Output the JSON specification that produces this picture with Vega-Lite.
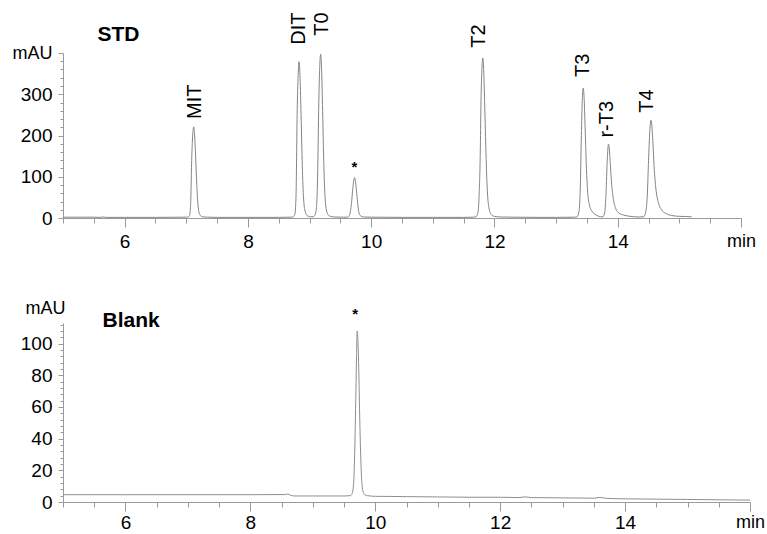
{
  "$schema": "https://vega.github.io/schema/vega-lite/v6.json",
  "background": "white",
  "padding": {"left": 12, "top": 12, "right": 5, "bottom": 0},
  "spacing": 105,
  "bounds": "flush",
  "config": {
    "view": {"stroke": null},
    "font": "Liberation Sans",
    "axis": {"labelFont": "Liberation Sans", "titleFont": "Liberation Sans", "domainColor": "#9a9a9a", "tickColor": "#9a9a9a", "labelColor": "#000000", "grid": false, "labelOverlap": false, "labelFlush": false, "tickCount": 100}
  },
  "datasets": {
    "std": [
      {"t": 5.0, "v": 2}, {"t": 5.5, "v": 2}, {"t": 5.6, "v": 1.5}, {"t": 5.65, "v": 2.5}, {"t": 5.7, "v": 1.5}, {"t": 6.0, "v": 1.5}, {"t": 6.5, "v": 1.5}, {"t": 7.0, "v": 2},
      {"t": 7.02, "v": 2}, {"t": 7.05, "v": 5}, {"t": 7.07, "v": 31}, {"t": 7.09, "v": 152}, {"t": 7.105, "v": 201}, {"t": 7.12, "v": 221}, {"t": 7.135, "v": 201}, {"t": 7.15, "v": 155}, {"t": 7.17, "v": 82}, {"t": 7.19, "v": 32}, {"t": 7.22, "v": 8}, {"t": 7.26, "v": 3}, {"t": 7.35, "v": 2},
      {"t": 7.5, "v": 1.5}, {"t": 8.0, "v": 1.5}, {"t": 8.5, "v": 1.5}, {"t": 8.7, "v": 2},
      {"t": 8.72, "v": 2}, {"t": 8.76, "v": 8}, {"t": 8.78, "v": 50}, {"t": 8.8, "v": 262}, {"t": 8.815, "v": 345}, {"t": 8.83, "v": 379}, {"t": 8.845, "v": 345}, {"t": 8.86, "v": 265}, {"t": 8.88, "v": 140}, {"t": 8.9, "v": 55}, {"t": 8.93, "v": 15}, {"t": 8.97, "v": 5}, {"t": 9.02, "v": 3}, {"t": 9.06, "v": 3},
      {"t": 9.08, "v": 5}, {"t": 9.11, "v": 22}, {"t": 9.13, "v": 95}, {"t": 9.15, "v": 280}, {"t": 9.165, "v": 365}, {"t": 9.18, "v": 397}, {"t": 9.195, "v": 362}, {"t": 9.21, "v": 275}, {"t": 9.23, "v": 140}, {"t": 9.25, "v": 55}, {"t": 9.28, "v": 15}, {"t": 9.32, "v": 5}, {"t": 9.4, "v": 2.5}, {"t": 9.55, "v": 2},
      {"t": 9.62, "v": 2}, {"t": 9.65, "v": 8}, {"t": 9.68, "v": 35}, {"t": 9.7, "v": 68}, {"t": 9.715, "v": 89}, {"t": 9.73, "v": 98}, {"t": 9.745, "v": 89}, {"t": 9.76, "v": 68}, {"t": 9.78, "v": 37}, {"t": 9.8, "v": 14}, {"t": 9.83, "v": 5}, {"t": 9.88, "v": 2.5}, {"t": 10.0, "v": 2},
      {"t": 10.5, "v": 1.5}, {"t": 11.0, "v": 1.5}, {"t": 11.5, "v": 1.5}, {"t": 11.65, "v": 2},
      {"t": 11.7, "v": 3}, {"t": 11.73, "v": 12}, {"t": 11.75, "v": 50}, {"t": 11.77, "v": 160}, {"t": 11.78, "v": 268}, {"t": 11.795, "v": 355}, {"t": 11.81, "v": 388}, {"t": 11.825, "v": 360}, {"t": 11.84, "v": 285}, {"t": 11.86, "v": 170}, {"t": 11.88, "v": 80}, {"t": 11.91, "v": 25}, {"t": 11.95, "v": 8}, {"t": 12.0, "v": 4}, {"t": 12.1, "v": 2.5}, {"t": 12.3, "v": 2},
      {"t": 12.7, "v": 1.5}, {"t": 13.0, "v": 1.5}, {"t": 13.3, "v": 2},
      {"t": 13.34, "v": 3}, {"t": 13.37, "v": 15}, {"t": 13.39, "v": 60}, {"t": 13.41, "v": 200}, {"t": 13.425, "v": 285}, {"t": 13.44, "v": 315}, {"t": 13.455, "v": 290}, {"t": 13.47, "v": 225}, {"t": 13.49, "v": 130}, {"t": 13.51, "v": 68}, {"t": 13.54, "v": 32}, {"t": 13.58, "v": 17}, {"t": 13.63, "v": 9}, {"t": 13.68, "v": 5}, {"t": 13.72, "v": 3},
      {"t": 13.76, "v": 3}, {"t": 13.79, "v": 15}, {"t": 13.81, "v": 60}, {"t": 13.83, "v": 140}, {"t": 13.85, "v": 179}, {"t": 13.865, "v": 165}, {"t": 13.88, "v": 130}, {"t": 13.9, "v": 85}, {"t": 13.93, "v": 45}, {"t": 13.97, "v": 22}, {"t": 14.02, "v": 12}, {"t": 14.1, "v": 7}, {"t": 14.2, "v": 4}, {"t": 14.35, "v": 2.5},
      {"t": 14.42, "v": 3}, {"t": 14.45, "v": 12}, {"t": 14.48, "v": 55}, {"t": 14.5, "v": 140}, {"t": 14.52, "v": 210}, {"t": 14.54, "v": 237}, {"t": 14.555, "v": 222}, {"t": 14.57, "v": 185}, {"t": 14.59, "v": 125}, {"t": 14.62, "v": 70}, {"t": 14.66, "v": 37}, {"t": 14.71, "v": 20}, {"t": 14.78, "v": 11}, {"t": 14.88, "v": 6}, {"t": 15.0, "v": 4}, {"t": 15.1, "v": 3.5}, {"t": 15.2, "v": 3}
    ],
    "stdPeaks": [
      {"t": 7.14, "v": 240, "label": "MIT"},
      {"t": 8.83, "v": 420, "label": "DIT"},
      {"t": 9.21, "v": 442, "label": "T0"},
      {"t": 11.75, "v": 413, "label": "T2"},
      {"t": 13.44, "v": 342, "label": "T3"},
      {"t": 13.82, "v": 195, "label": "r-T3"},
      {"t": 14.47, "v": 255, "label": "T4"}
    ],
    "stdStar": [{"t": 9.73, "v": 124, "label": "*"}],
    "stdTitle": [{"t": 5.9, "v": 444, "label": "STD"}],
    "blank": [
      {"t": 5.0, "v": 4.6}, {"t": 6.0, "v": 4.6}, {"t": 7.0, "v": 4.6}, {"t": 8.0, "v": 4.6}, {"t": 8.55, "v": 4.7}, {"t": 8.6, "v": 5.0}, {"t": 8.65, "v": 4.2}, {"t": 8.7, "v": 3.8}, {"t": 9.0, "v": 3.8}, {"t": 9.5, "v": 3.8}, {"t": 9.6, "v": 4},
      {"t": 9.62, "v": 4.5}, {"t": 9.65, "v": 10}, {"t": 9.67, "v": 30}, {"t": 9.69, "v": 70}, {"t": 9.7, "v": 92}, {"t": 9.71, "v": 108}, {"t": 9.72, "v": 104}, {"t": 9.735, "v": 85}, {"t": 9.75, "v": 55}, {"t": 9.77, "v": 25}, {"t": 9.79, "v": 10}, {"t": 9.82, "v": 5}, {"t": 9.87, "v": 4}, {"t": 10.0, "v": 3.6},
      {"t": 10.5, "v": 3.4}, {"t": 11.0, "v": 3.2}, {"t": 11.5, "v": 3.0}, {"t": 12.0, "v": 3.0}, {"t": 12.3, "v": 2.8}, {"t": 12.4, "v": 3.2}, {"t": 12.5, "v": 2.8}, {"t": 13.0, "v": 2.6}, {"t": 13.5, "v": 2.4}, {"t": 13.6, "v": 2.9}, {"t": 13.7, "v": 2.3}, {"t": 14.0, "v": 2.0}, {"t": 14.5, "v": 1.8}, {"t": 15.0, "v": 1.6}, {"t": 15.5, "v": 1.4}, {"t": 16.0, "v": 1.2}
    ],
    "blankStar": [{"t": 9.68, "v": 118.5, "label": "*"}],
    "blankTitle": [{"t": 6.09, "v": 114.5, "label": "Blank"}]
  },
  "vconcat": [
    {
      "width": 678,
      "height": 165,
      "layer": [
        {
          "data": {"name": "std"},
          "mark": {"type": "line", "color": "#858585", "strokeWidth": 1, "interpolate": "monotone"},
          "encoding": {
            "x": {"field": "t", "type": "quantitative", "scale": {"domain": [5, 16], "nice": false, "zero": false},
              "axis": {"title": null, "tickCount": 100, "values": [5,5.5,6,6.5,7,7.5,8,8.5,9,9.5,10,10.5,11,11.5,12,12.5,13,13.5,14,14.5,15,15.5,16],
                "labelExpr": "datum.value === 16 ? 'min' : (datum.value % 2 === 0 ? format(datum.value, 'd') : '')",
                "tickSize": {"condition": {"test": "datum.value % 2 === 0", "value": 9}, "value": 5},
                "labelFontSize": {"condition": {"test": "datum.value === 16", "value": 18}, "value": 19},
                "labelPadding": 5}},
            "y": {"field": "v", "type": "quantitative", "scale": {"domain": [0, 400], "nice": false},
              "axis": {"title": null, "tickCount": 100, "values": [0,20,40,60,80,100,120,140,160,180,200,220,240,260,280,300,320,340,360,380,400],
                "labelExpr": "datum.value === 400 ? 'mAU' : (datum.value % 100 === 0 ? format(datum.value, 'd') : '')",
                "tickSize": {"condition": {"test": "datum.value % 100 === 0", "value": 5}, "value": 3},
                "labelFontSize": {"condition": {"test": "datum.value === 400", "value": 18}, "value": 19},
                "labelPadding": 6}}
          }
        },
        {
          "data": {"name": "stdPeaks"},
          "mark": {"type": "text", "angle": 270, "align": "left", "baseline": "middle", "fontSize": 20, "font": "Liberation Sans", "color": "#000000"},
          "encoding": {"x": {"field": "t", "type": "quantitative"}, "y": {"field": "v", "type": "quantitative"}, "text": {"field": "label"}}
        },
        {
          "data": {"name": "stdStar"},
          "mark": {"type": "text", "align": "center", "baseline": "middle", "fontSize": 15, "fontWeight": "bold", "font": "Liberation Sans", "color": "#000000"},
          "encoding": {"x": {"field": "t", "type": "quantitative"}, "y": {"field": "v", "type": "quantitative"}, "text": {"field": "label"}}
        },
        {
          "data": {"name": "stdTitle"},
          "mark": {"type": "text", "align": "center", "baseline": "middle", "fontSize": 21, "fontWeight": "bold", "font": "Liberation Sans", "color": "#000000"},
          "encoding": {"x": {"field": "t", "type": "quantitative"}, "y": {"field": "v", "type": "quantitative"}, "text": {"field": "label"}}
        }
      ]
    },
    {
      "width": 687,
      "height": 179,
      "layer": [
        {
          "data": {"name": "blank"},
          "mark": {"type": "line", "color": "#8e8e8e", "strokeWidth": 1, "interpolate": "monotone"},
          "encoding": {
            "x": {"field": "t", "type": "quantitative", "scale": {"domain": [5, 16], "nice": false, "zero": false},
              "axis": {"title": null, "tickCount": 100, "values": [5,5.5,6,6.5,7,7.5,8,8.5,9,9.5,10,10.5,11,11.5,12,12.5,13,13.5,14,14.5,15,15.5,16],
                "labelExpr": "datum.value === 16 ? 'min' : (datum.value % 2 === 0 ? format(datum.value, 'd') : '')",
                "tickSize": {"condition": {"test": "datum.value % 2 === 0", "value": 9}, "value": 5},
                "labelFontSize": {"condition": {"test": "datum.value === 16", "value": 18}, "value": 19},
                "labelPadding": 2}},
            "y": {"field": "v", "type": "quantitative", "scale": {"domain": [0, 113], "nice": false},
              "axis": {"title": "mAU", "titleAngle": 0, "titleAlign": "right", "titleBaseline": "middle", "titleX": 2, "titleY": -15, "titleFontSize": 18, "titleFontWeight": "normal", "tickCount": 100,
                "values": [0,4,8,12,16,20,24,28,32,36,40,44,48,52,56,60,64,68,72,76,80,84,88,92,96,100,104,108,112],
                "labelExpr": "datum.value % 20 === 0 ? format(datum.value, 'd') : ''",
                "tickSize": {"condition": {"test": "datum.value % 20 === 0", "value": 5}, "value": 3},
                "labelFontSize": 19,
                "labelPadding": 6}}
          }
        },
        {
          "data": {"name": "blankStar"},
          "mark": {"type": "text", "align": "center", "baseline": "middle", "fontSize": 15, "fontWeight": "bold", "font": "Liberation Sans", "color": "#000000"},
          "encoding": {"x": {"field": "t", "type": "quantitative"}, "y": {"field": "v", "type": "quantitative"}, "text": {"field": "label"}}
        },
        {
          "data": {"name": "blankTitle"},
          "mark": {"type": "text", "align": "center", "baseline": "middle", "fontSize": 21, "fontWeight": "bold", "font": "Liberation Sans", "color": "#000000"},
          "encoding": {"x": {"field": "t", "type": "quantitative"}, "y": {"field": "v", "type": "quantitative"}, "text": {"field": "label"}}
        }
      ]
    }
  ]
}
